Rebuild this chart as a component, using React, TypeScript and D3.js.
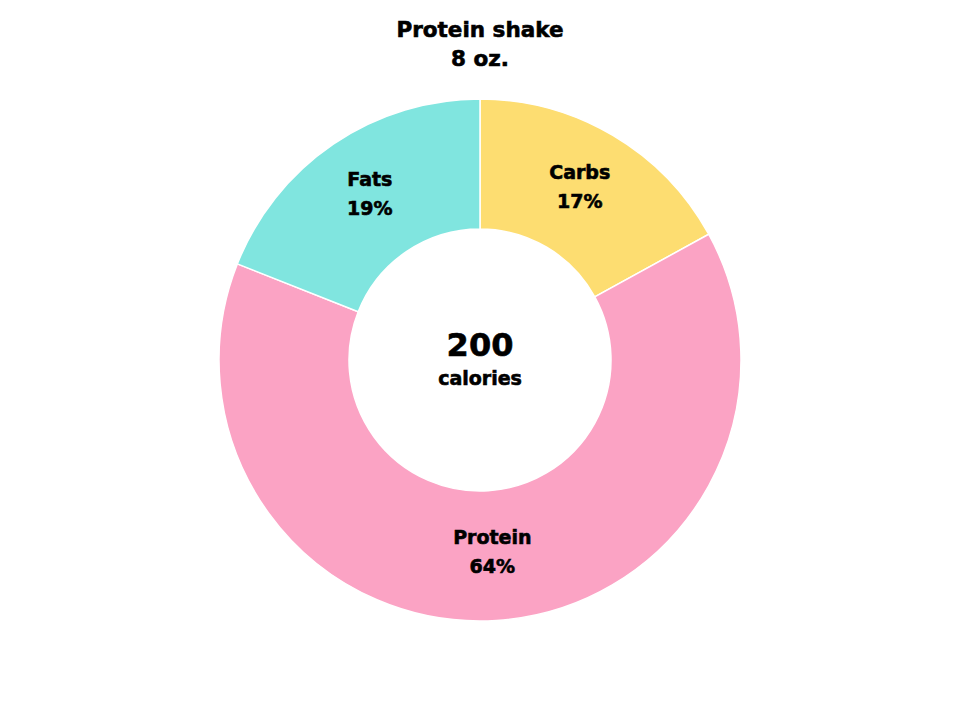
import React, { useEffect, useRef } from 'react';
import * as d3 from 'd3';

const categories = ['Carbs', 'Protein', 'Fats'];
const shares = [17, 64, 19];
const colors = ['#fddd71', '#fba3c4', '#80e5df'];
const title = ['Protein shake', '8 oz.'];
const total = '200';
const totalUnit = 'calories';

const font = '"DejaVu Sans", sans-serif';

export default function App() {
  const ref = useRef<SVGSVGElement>(null);

  useEffect(() => {
    const w = 960, h = 720;
    const svg = d3.select(ref.current);
    svg.selectAll('*').remove();
    svg.attr('width', w).attr('height', h);

    const cx = 480, cy = 360;
    const R = 261, r = 131;

    const data = categories.map((c, i) => ({ name: c, value: shares[i], color: colors[i] }));
    const pie = d3.pie<any>().value((d: any) => d.value).sort(null);
    const arc = d3.arc<any>().innerRadius(r).outerRadius(R);

    const g = svg.append('g').attr('transform', `translate(${cx},${cy})`);
    const slices = g.selectAll('g.slice').data(pie(data)).enter().append('g').attr('class', 'slice');

    slices.append('path')
      .attr('d', arc)
      .attr('fill', (d: any) => d.data.color)
      .attr('stroke', '#fff')
      .attr('stroke-width', 1.5);

    const heavy = (sel: any, size: number) => sel
      .style('font-family', font)
      .style('font-weight', 700)
      .style('font-size', size + 'px')
      .attr('fill', '#000')
      .attr('stroke', '#000')
      .attr('stroke-width', 0.6)
      .attr('text-anchor', 'middle');

    // labels at centroid
    slices.each(function (d: any) {
      const [x, y] = arc.centroid(d);
      const t = heavy(d3.select(this).append('text'), 19);
      t.append('tspan').attr('x', x).attr('y', y - 12).text(d.data.name);
      t.append('tspan').attr('x', x).attr('y', y + 17).text(d.data.value + '%');
    });

    // centre text
    heavy(g.append('text'), 32).attr('y', -4).text(total);
    heavy(g.append('text'), 19).attr('y', 25).text(totalUnit);

    // title
    title.forEach((line, i) => {
      heavy(svg.append('text'), 21.5)
        .attr('x', cx)
        .attr('y', 37 + i * 29)
        .text(line);
    });
  }, []);

  return <svg ref={ref} style={{ position: 'absolute', left: 0, top: 0 }}></svg>;
}
